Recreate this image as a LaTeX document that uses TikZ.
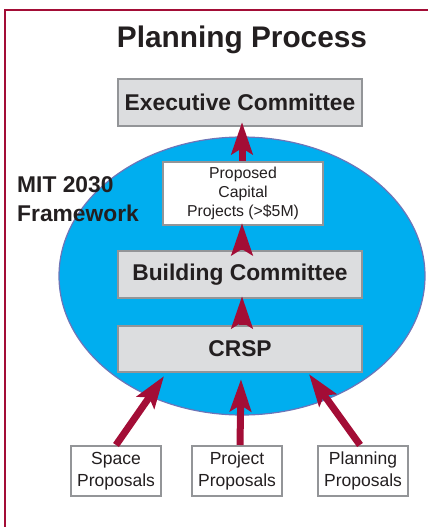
\documentclass[tikz,border=0pt]{standalone}
\usepackage{fontspec}
\setmainfont{Liberation Sans}
\usetikzlibrary{arrows.meta,shapes.geometric,calc}
\definecolor{mitred}{HTML}{A30D36}
\definecolor{sky}{HTML}{00AEEF}
\definecolor{skyedge}{HTML}{6D75B8}
\definecolor{boxgray}{HTML}{DCDDDF}
\definecolor{boxedge}{HTML}{939598}
\definecolor{txt}{HTML}{231F20}
\begin{document}
\begin{tikzpicture}[x=1pt,y=1pt,
  graybox/.style={draw=boxedge, fill=boxgray, line width=2.2pt, minimum width=244pt, minimum height=47pt, inner sep=0pt, text=txt, font=\bfseries\fontsize{22.8}{27}\selectfont},
  whitebox/.style={draw=boxedge, fill=white, line width=2pt, inner sep=0pt, align=center, text=txt},
  bigarrow/.style={draw=mitred, line width=7pt, -{Stealth[length=32pt,width=21pt,inset=6pt]}}
]
\useasboundingbox (0,0) rectangle (428,-527);
\clip (0,0) rectangle (428,-527);
\draw[mitred, line width=2.3pt] (5,-540) -- (5,-10) -- (440,-10);

\node[text=txt, font=\bfseries\fontsize{29.8}{34}\selectfont] (title) at (242,-40) {Planning Process};

\node[ellipse, draw=skyedge, fill=sky, line width=1.2pt, minimum width=366pt, minimum height=278pt, inner sep=0pt] (framework) at (242,-276) {};

\node[anchor=west, align=left, inner sep=0pt, text=txt, font=\bfseries\fontsize{22.8}{29}\selectfont] (mit) at (17,-199) {MIT 2030\\Framework};

\node[graybox] (exec) at (240,-102.5) {Executive Committee};
\node[whitebox, minimum width=160pt, minimum height=63pt, font=\fontsize{15.8}{19}\selectfont] (proposed) at (243,-193.5) {Proposed\\Capital\\Projects (>\$5M)};
\node[graybox] (building) at (240,-274.5) {Building Committee};
\node[graybox, minimum height=46pt] (crsp) at (240,-349) {CRSP};

\node[whitebox, minimum width=90pt, minimum height=50pt, font=\fontsize{17.5}{22}\selectfont] (space) at (116,-471) {Space\\Proposals};
\node[whitebox, minimum width=90pt, minimum height=50pt, font=\fontsize{17.5}{22}\selectfont] (project) at (237,-471) {Project\\Proposals};
\node[whitebox, minimum width=90pt, minimum height=50pt, font=\fontsize{17.5}{22}\selectfont] (planning) at (363,-471) {Planning\\Proposals};

\draw[bigarrow, shorten >=-5pt] ([xshift=-1pt]proposed.north) -- ([xshift=-1pt]proposed.north |- exec.south);
\draw[bigarrow, shorten >=-3pt] ([xshift=2pt]building.north) -- ([xshift=2pt]building.north |- proposed.south);
\draw[bigarrow, shorten >=-3pt] ([xshift=2pt]crsp.north) -- ([xshift=2pt]crsp.north |- building.south);

\draw[bigarrow] (space.north) -- ([xshift=-76pt,yshift=-3pt]crsp.south);
\draw[bigarrow] ([xshift=3pt]project.north) -- ([xshift=1pt,yshift=-6pt]crsp.south);
\draw[bigarrow] ([xshift=-3pt]planning.north) -- ([xshift=69pt,yshift=-1pt]crsp.south);
\end{tikzpicture}
\end{document}
